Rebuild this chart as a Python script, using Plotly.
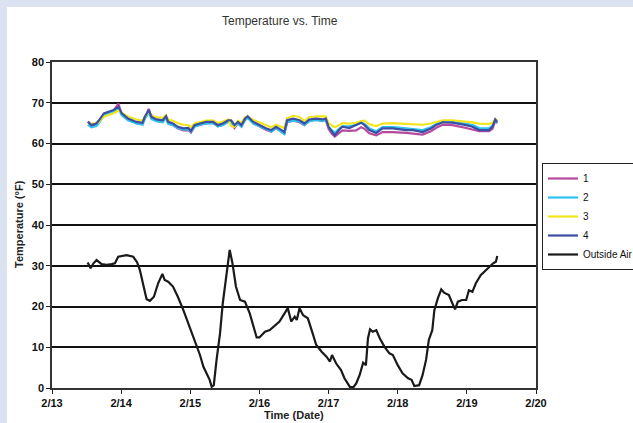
import pandas as pd
import plotly.graph_objects as go

# ---- data (days after 2/13 00:00) ----
indoor_days = [0.52, 0.57, 0.64, 0.68, 0.75, 0.82, 0.89, 0.96, 1.01, 1.10,
               1.22, 1.31, 1.34, 1.40, 1.44, 1.51, 1.60, 1.65, 1.68, 1.75,
               1.82, 1.90, 1.97, 2.01, 2.06, 2.14, 2.23, 2.33, 2.40, 2.47,
               2.55, 2.59, 2.64, 2.69, 2.74, 2.79, 2.83, 2.91, 3.00, 3.10,
               3.17, 3.24, 3.32, 3.36, 3.40, 3.49, 3.58, 3.65, 3.72, 3.82,
               3.91, 3.96, 4.00, 4.05, 4.09, 4.15, 4.20, 4.30, 4.40, 4.47,
               4.52, 4.59, 4.69, 4.78, 4.93, 5.12, 5.22, 5.36, 5.48, 5.55,
               5.65, 5.79, 5.99, 6.08, 6.18, 6.32, 6.37, 6.41, 6.44]

sensor1 = [65.4, 64.3, 64.6, 65.4, 67.0, 67.5, 68.0, 69.8, 67.0, 65.8,
           65.0, 64.8, 66.2, 68.5, 66.2, 65.6, 65.4, 66.4, 65.0, 64.5,
           63.7, 63.2, 63.3, 62.7, 64.2, 64.6, 65.0, 65.0, 64.2, 64.6,
           65.4, 65.2, 63.8, 65.0, 64.2, 65.8, 66.4, 65.0, 64.2, 63.3,
           62.9, 63.8, 62.9, 62.4, 65.2, 65.6, 65.2, 64.5, 65.6, 65.8,
           65.6, 65.8, 63.6, 62.3, 61.7, 62.6, 63.2, 63.1, 63.2, 64.0,
           63.6, 62.5, 62.0, 62.8, 62.8, 62.6, 62.5, 62.2, 63.0, 63.8,
           64.6, 64.5, 63.8, 63.4, 63.0, 63.0, 63.6, 65.5, 65.0]

sensor2 = [64.6, 64.0, 64.3, 65.0, 66.9, 67.3, 67.8, 68.4, 66.9, 65.7,
           64.9, 64.6, 66.0, 67.6, 66.0, 65.5, 65.2, 66.3, 64.8, 64.5,
           63.8, 63.4, 63.5, 62.9, 64.1, 64.6, 64.9, 65.0, 64.2, 64.5,
           65.3, 65.0, 64.2, 64.9, 64.1, 65.7, 66.3, 64.9, 64.2, 63.4,
           63.0, 63.8, 62.9, 62.3, 65.3, 65.6, 65.4, 64.5, 65.5, 65.8,
           65.5, 65.9, 64.0, 63.2, 62.6, 63.6, 64.2, 64.2, 64.6, 65.1,
           64.8, 63.7, 63.0, 64.0, 64.0, 63.7, 63.6, 63.3, 64.0, 64.7,
           65.3, 65.3, 64.8, 64.5, 63.8, 63.7, 64.4, 65.6, 65.1]

sensor3 = [65.0, 64.8, 65.0, 65.3, 66.6, 67.0, 67.4, 68.1, 67.6, 66.6,
           65.9, 65.6, 66.4, 67.8, 66.9, 66.4, 66.3, 66.9, 65.9, 65.6,
           65.0, 64.6, 64.5, 64.0, 64.9, 65.3, 65.6, 65.7, 65.0, 65.4,
           65.9, 64.3, 64.1, 65.6, 65.1, 66.4, 66.6, 65.8, 65.2, 64.5,
           64.0, 64.6, 64.0, 63.8, 66.2, 66.8, 66.5, 65.5, 66.5, 66.7,
           66.7, 66.6, 65.0, 64.4, 64.0, 64.5, 65.0, 64.9, 65.1, 65.5,
           65.6, 64.7, 64.3, 64.9, 65.0, 64.8, 64.7, 64.6, 64.9, 65.3,
           65.7, 65.7, 65.4, 65.2, 64.9, 64.8, 65.0, 66.0, 65.6]

sensor4 = [65.3, 64.5, 64.9, 65.7, 67.4, 67.8, 68.2, 69.0, 67.4, 66.1,
           65.3, 65.1, 66.5, 68.2, 66.5, 65.9, 65.7, 66.7, 65.3, 64.9,
           64.1, 63.7, 63.8, 63.1, 64.5, 64.9, 65.3, 65.3, 64.5, 64.9,
           65.7, 65.7, 64.5, 65.3, 64.5, 66.1, 66.7, 65.3, 64.5, 63.7,
           63.3, 64.1, 63.3, 62.8, 65.7, 66.1, 65.7, 64.9, 65.9, 66.1,
           65.9, 66.1, 64.1, 62.8, 62.0, 63.3, 64.1, 63.8, 64.5, 65.1,
           64.5, 63.3, 62.6, 63.7, 63.7, 63.3, 63.3, 62.8, 63.7, 64.5,
           65.2, 65.1, 64.5, 64.1, 63.3, 63.3, 64.1, 65.9, 65.3]

outside_days = [0.515, 0.559, 0.60, 0.645, 0.718, 0.79, 0.862, 0.91, 0.958, 1.078,
                1.175, 1.232, 1.27, 1.32, 1.368, 1.416, 1.474, 1.535, 1.597, 1.63,
                1.68, 1.75, 1.82, 1.90, 1.97, 2.04, 2.09, 2.14, 2.19, 2.24,
                2.28, 2.31, 2.34, 2.38, 2.43, 2.47, 2.52, 2.57, 2.61, 2.66,
                2.72, 2.79, 2.86, 2.91, 2.96, 3.00, 3.08, 3.15, 3.22, 3.29,
                3.37, 3.41, 3.46, 3.51, 3.54, 3.58, 3.63, 3.70, 3.77, 3.82,
                3.90, 3.97, 4.02, 4.05, 4.11, 4.18, 4.23, 4.28, 4.31, 4.36,
                4.40, 4.45, 4.50, 4.54, 4.57, 4.60, 4.64, 4.69, 4.74, 4.81,
                4.88, 4.93, 5.00, 5.07, 5.15, 5.20, 5.24, 5.31, 5.36, 5.41,
                5.45, 5.50, 5.53, 5.58, 5.63, 5.67, 5.74, 5.79, 5.83, 5.87,
                5.93, 5.99, 6.03, 6.08, 6.13, 6.20, 6.28, 6.34, 6.38, 6.42,
                6.44]
outside_air = [30.8, 29.4, 30.6, 31.4, 30.4, 30.2, 30.4, 30.6, 32.2, 32.6,
               32.2, 30.8, 29.0, 24.9, 21.8, 21.4, 22.4, 25.7, 28.0, 26.5,
               26.1, 24.9, 22.4, 19.1, 15.9, 12.4, 10.1, 8.1, 5.2, 3.2,
               2.0, 0.3, 0.7, 6.9, 13.4, 20.8, 28.1, 33.9, 30.6, 24.9,
               21.6, 21.2, 18.3, 15.5, 12.4, 12.4, 13.8, 14.2, 15.2, 16.3,
               18.5, 19.6, 16.3, 17.5, 16.7, 19.6, 17.9, 17.1, 13.4, 10.6,
               8.9, 7.7, 6.5, 8.1, 6.0, 4.4, 2.4, 1.1, 0.2, 0.2,
               1.1, 3.2, 6.2, 5.6, 12.2, 14.4, 13.8, 14.2, 12.2, 10.1,
               8.5, 8.1, 5.6, 3.6, 2.4, 2.0, 0.5, 0.7, 3.2, 6.9,
               11.8, 14.2, 19.1, 22.0, 24.2, 23.4, 22.8, 20.8, 19.3, 21.2,
               21.6, 21.6, 24.0, 23.6, 25.7, 27.7, 29.0, 29.8, 30.6, 31.0,
               32.4]

series_names = ["1", "2", "3", "4", "Outside Air"]
series_colors = ["#b8489c", "#2ec4ee", "#f2e51c", "#3b4fa3", "#1a1a1a"]
tick_labels = ["2/13", "2/14", "2/15", "2/16", "2/17", "2/18", "2/19", "2/20"]

base = pd.Timestamp("2010-02-13")
def to_time(days):
    return base + pd.to_timedelta(pd.Series(days), unit="D")

fig = go.Figure()
for name, vals, col in zip(series_names[:4], [sensor1, sensor2, sensor3, sensor4], series_colors[:4]):
    fig.add_trace(go.Scatter(x=to_time(indoor_days), y=vals, mode="lines", name=name,
                             line=dict(color=col, width=2.2)))
fig.add_trace(go.Scatter(x=to_time(outside_days), y=outside_air, mode="lines",
                         name=series_names[4], line=dict(color=series_colors[4], width=2.2)))

tickvals = [base + pd.Timedelta(days=i) for i in range(len(tick_labels))]

W, H = 633, 423
L, R, T, B = 52, 97, 62, 35
pw, ph = W - L - R, H - T - B
def px(x): return (x - L) / pw
def py(y): return (H - B - y) / ph

tick_font = dict(size=11, color="#111", family="Liberation Sans, Arial", weight="bold")

fig.update_layout(
    width=W, height=H,
    margin=dict(l=L, r=R, t=T, b=B, autoexpand=False),
    paper_bgcolor="#dce3f0",
    plot_bgcolor="white",
    font=dict(family="Liberation Sans, Arial, sans-serif", color="#111", size=11),
    showlegend=True,
    legend=dict(x=px(542), y=py(163), xanchor="left", yanchor="top",
                bgcolor="white", bordercolor="#222", borderwidth=1,
                font=dict(size=10, color="#111"), itemwidth=30,
                tracegroupgap=0),
    shapes=[dict(type="rect", xref="paper", yref="paper", layer="below",
                 x0=px(7), x1=px(W + 20), y0=py(H + 20), y1=py(7),
                 fillcolor="white", line=dict(width=0))],
    annotations=[
        dict(text="Temperature vs. Time", xref="paper", yref="paper",
             x=px(280), y=py(21), showarrow=False, xanchor="center", yanchor="middle",
             font=dict(size=12, color="#333")),
        dict(text="<b>Temperature (°F)</b>", xref="paper", yref="paper",
             x=px(19), y=py(224), showarrow=False, textangle=-90,
             xanchor="center", yanchor="middle", font=dict(size=11, color="#222")),
        dict(text="<b>Time (Date)</b>", xref="paper", yref="paper",
             x=px(294), y=py(415), showarrow=False,
             xanchor="center", yanchor="middle", font=dict(size=11, color="#222")),
    ],
)
fig.update_xaxes(range=[tickvals[0], tickvals[-1]], tickvals=tickvals, ticktext=tick_labels,
                 automargin=False,
                 showgrid=False, zeroline=False, showline=True, mirror=True,
                 linecolor="#333", linewidth=1.5, ticks="outside", ticklen=4,
                 tickcolor="#222", tickfont=tick_font)
fig.update_yaxes(range=[0, 80], dtick=10, showgrid=True, gridcolor="#111", gridwidth=1.5,
                 automargin=False,
                 zeroline=False, showline=True, mirror=True, linecolor="#333", linewidth=1.5,
                 ticks="outside", ticklen=4, tickcolor="#222",
                 tickfont=tick_font)

fig.write_html("out.html", config={"displayModeBar": False},
               post_script="document.body.style.margin='0';document.body.style.overflow='hidden';")
